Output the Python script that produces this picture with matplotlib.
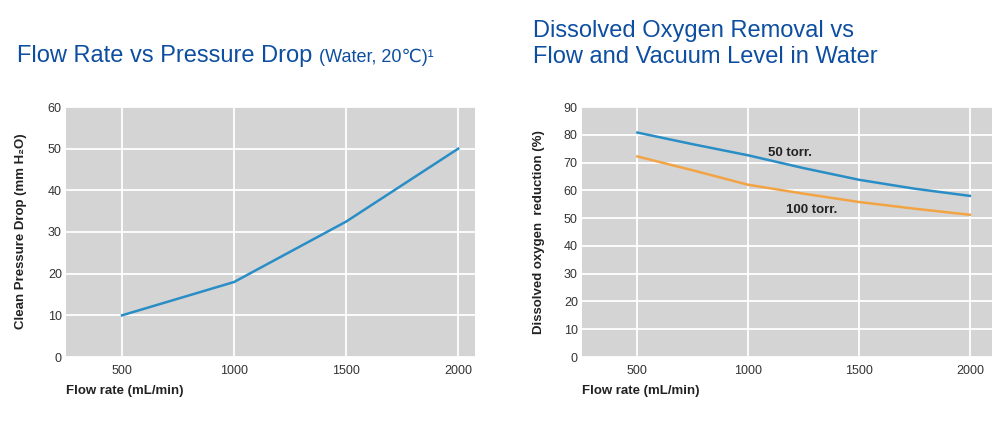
import matplotlib.pyplot as plt

plt.rcParams['font.family'] = ['Liberation Sans', 'DejaVu Sans']

# left chart: flow rate vs pressure drop
flow = [500, 1000, 1500, 2000]
pressure = [10, 18, 32.5, 50]

# right chart: dissolved oxygen removal
flow_do = [500, 750, 1000, 1250, 1500, 1750, 2000]
do_50 = [80.8, 76.6, 72.6, 68.0, 63.8, 60.6, 58.0]
do_100 = [72.2, 67.2, 62.0, 58.8, 55.8, 53.4, 51.2]

title_col = '#0d4ea0'
bg = '#d4d4d4'
blue = '#2a8ec6'
orange = '#f2a444'
W, H = 994, 422

fig = plt.figure(figsize=(W / 100, H / 100), dpi=100)
ax1 = fig.add_axes([66 / W, 65 / H, 409 / W, 250 / H])
ax2 = fig.add_axes([582 / W, 65 / H, 410 / W, 250 / H])

for ax in (ax1, ax2):
    ax.set_facecolor(bg)
    for s in ax.spines.values():
        s.set_visible(False)
    ax.grid(True, color='white', linewidth=1.3)
    ax.set_axisbelow(True)
    ax.tick_params(length=0, labelsize=9, colors='#333333')
    ax.tick_params(axis='y', pad=3)
    ax.tick_params(axis='x', pad=6)
    ax.set_xticks([500, 1000, 1500, 2000])

ax1.plot(flow, pressure, color=blue, linewidth=1.8)
ax1.set_xlim(250, 2075)
ax1.set_ylim(0, 60)
ax1.set_yticks(range(0, 61, 10))

ax2.plot(flow_do, do_50, color=blue, linewidth=1.8)
ax2.plot(flow_do, do_100, color=orange, linewidth=1.8)
ax2.set_xlim(250, 2100)
ax2.set_ylim(0, 90)
ax2.set_yticks(range(0, 91, 10))
ax2.text(1090, 72.5, '50 torr.', fontsize=9.5, fontweight='bold', color='#222222')
ax2.text(1170, 52.0, '100 torr.', fontsize=9.5, fontweight='bold', color='#222222')

# axis labels
fig.text(66 / W, 1 - 391 / H, 'Flow rate (mL/min)', fontsize=9.5, fontweight='bold',
         color='#222222', va='center', ha='left')
fig.text(582 / W, 1 - 391 / H, 'Flow rate (mL/min)', fontsize=9.5, fontweight='bold',
         color='#222222', va='center', ha='left')
fig.text(21 / W, 1 - 231 / H, 'Clean Pressure Drop (mm H₂O)', fontsize=9.5,
         fontweight='bold', color='#222222', rotation=90, va='center', ha='center')
fig.text(539 / W, 1 - 232 / H, 'Dissolved oxygen  reduction (%)', fontsize=9.5,
         fontweight='bold', color='#222222', rotation=90, va='center', ha='center')

# titles
t = fig.text(17 / W, 1 - 62 / H, 'Flow Rate vs Pressure Drop ', fontsize=17,
             color=title_col, va='baseline', ha='left')
fig.canvas.draw()
bb = t.get_window_extent()
fig.text(bb.x1 / W, 1 - 62 / H, '(Water, 20℃)¹', fontsize=13,
         color=title_col, va='baseline', ha='left')
fig.text(533 / W, 1 - 37 / H, 'Dissolved Oxygen Removal vs', fontsize=17,
         color=title_col, va='baseline', ha='left')
fig.text(533 / W, 1 - 63 / H, 'Flow and Vacuum Level in Water', fontsize=17,
         color=title_col, va='baseline', ha='left')

fig.savefig('out.png', dpi=100)
